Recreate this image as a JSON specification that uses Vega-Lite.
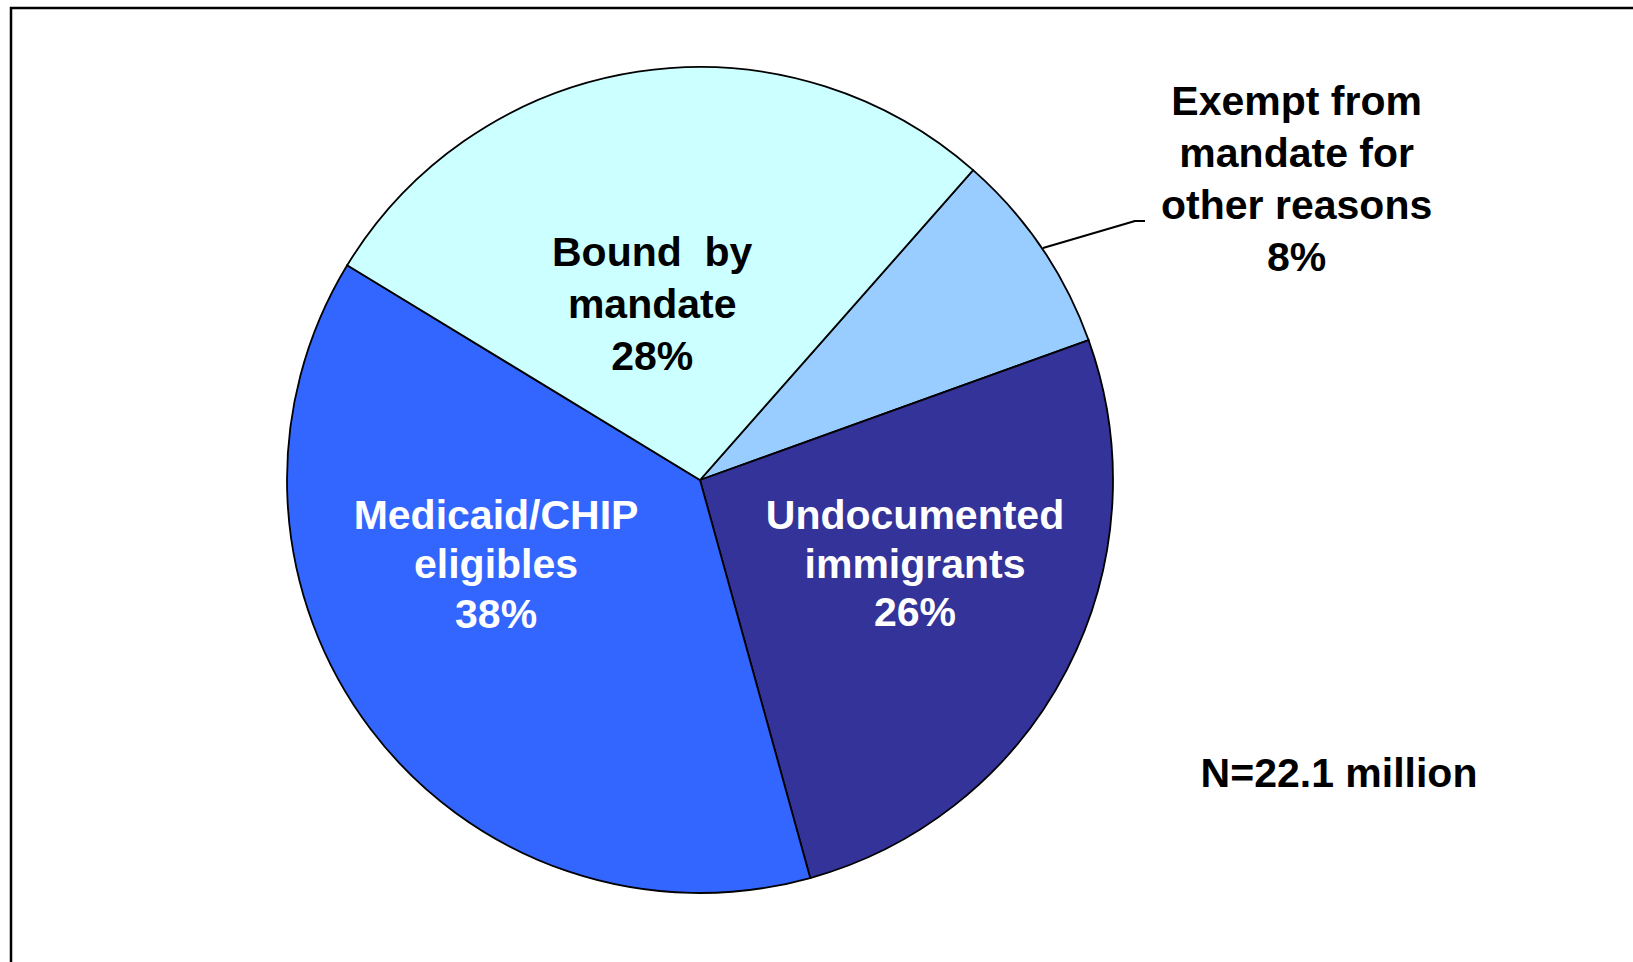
{
  "$schema": "https://vega.github.io/schema/vega-lite/v6.json",
  "autosize": {"type": "none"},
  "width": 1625,
  "height": 957,
  "padding": {"left": 11, "top": 8, "right": -3, "bottom": -3},
  "background": "white",
  "config": {"view": {"stroke": "black", "strokeWidth": 2.5}, "font": "Liberation Sans"},
  "params": [
    {"name": "cx", "expr": "width*0.424"},
    {"name": "cy", "expr": "height*0.4932"}
  ],
  "layer": [
    {
      "data": {
        "values": [
          {"cat": "Exempt", "share": 8.0, "rank": 1, "label": "Exempt from\nmandate for\nother reasons\n8%"},
          {"cat": "Undocumented", "share": 26.2, "rank": 2, "label": "Undocumented\nimmigrants\n26%"},
          {"cat": "Medicaid", "share": 38.0, "rank": 3, "label": "Medicaid/CHIP\neligibles\n38%"},
          {"cat": "Bound", "share": 27.8, "rank": 4, "label": "Bound \u00a0by\nmandate\n28%"}
        ]
      },
      "encoding": {
        "theta": {"field": "share", "type": "quantitative", "stack": true, "scale": {"range": [0.72257, 7.00576]}},
        "order": {"field": "rank", "type": "quantitative"}
      },
      "layer": [
        {
          "mark": {"type": "arc", "outerRadius": 413, "stroke": "black", "strokeWidth": 1.8, "x": {"expr": "cx"}, "y": {"expr": "cy"}},
          "encoding": {
            "color": {
              "field": "cat", "type": "nominal", "legend": null,
              "scale": {"domain": ["Exempt", "Undocumented", "Medicaid", "Bound"], "range": ["#99CCFF", "#333399", "#3366FF", "#CCFFFF"]}
            }
          }
        },
        {
          "mark": {"type": "text", "x": {"expr": "cx"}, "y": {"expr": "cy"}, "radius": 185, "dx": -20, "dy": -43, "fontSize": 41, "fontWeight": "bold", "lineBreak": "\n", "lineHeight": 52, "color": "black", "align": "center", "baseline": "middle"},
          "encoding": {
            "detail": {"field": "cat"},
            "text": {"condition": {"test": "datum.cat === 'Bound'", "field": "label"}, "value": ""}
          }
        },
        {
          "mark": {"type": "text", "x": {"expr": "cx"}, "y": {"expr": "cy"}, "radius": 208, "dx": -38, "dy": -88.5, "fontSize": 41, "fontWeight": "bold", "lineBreak": "\n", "lineHeight": 49.5, "color": "white", "align": "center", "baseline": "middle"},
          "encoding": {
            "detail": {"field": "cat"},
            "text": {"condition": {"test": "datum.cat === 'Medicaid'", "field": "label"}, "value": ""}
          }
        },
        {
          "mark": {"type": "text", "x": {"expr": "cx"}, "y": {"expr": "cy"}, "radius": 225, "dx": 15.2, "dy": -66, "fontSize": 41, "fontWeight": "bold", "lineBreak": "\n", "lineHeight": 48.5, "color": "white", "align": "center", "baseline": "middle"},
          "encoding": {
            "detail": {"field": "cat"},
            "text": {"condition": {"test": "datum.cat === 'Undocumented'", "field": "label"}, "value": ""}
          }
        },
        {
          "mark": {"type": "text", "x": {"expr": "cx"}, "y": {"expr": "cy"}, "radius": 663, "dx": 48.3, "dy": -4.7, "fontSize": 41, "fontWeight": "bold", "lineBreak": "\n", "lineHeight": 52, "color": "black", "align": "center", "baseline": "middle"},
          "encoding": {
            "detail": {"field": "cat"},
            "text": {"condition": {"test": "datum.cat === 'Exempt'", "field": "label"}, "value": ""}
          }
        }
      ]
    },
    {
      "data": {"values": [{"part": "leader"}]},
      "mark": {"type": "rule", "color": "black", "strokeWidth": 2},
      "encoding": {
        "x": {"value": {"expr": "cx+343"}},
        "y": {"value": {"expr": "cy-232"}},
        "x2": {"value": {"expr": "cx+435"}},
        "y2": {"value": {"expr": "cy-259"}}
      }
    },
    {
      "data": {"values": [{"part": "leader"}]},
      "mark": {"type": "rule", "color": "black", "strokeWidth": 2},
      "encoding": {
        "x": {"value": {"expr": "cx+434"}},
        "y": {"value": {"expr": "cy-259"}},
        "x2": {"value": {"expr": "cx+445"}},
        "y2": {"value": {"expr": "cy-259"}}
      }
    },
    {
      "data": {"values": [{"note": "N=22.1 million"}]},
      "mark": {"type": "text", "x": {"expr": "cx+639"}, "y": {"expr": "cy+295"}, "fontSize": 41, "fontWeight": "bold", "color": "black", "align": "center", "baseline": "middle"},
      "encoding": {"text": {"field": "note"}}
    }
  ]
}
